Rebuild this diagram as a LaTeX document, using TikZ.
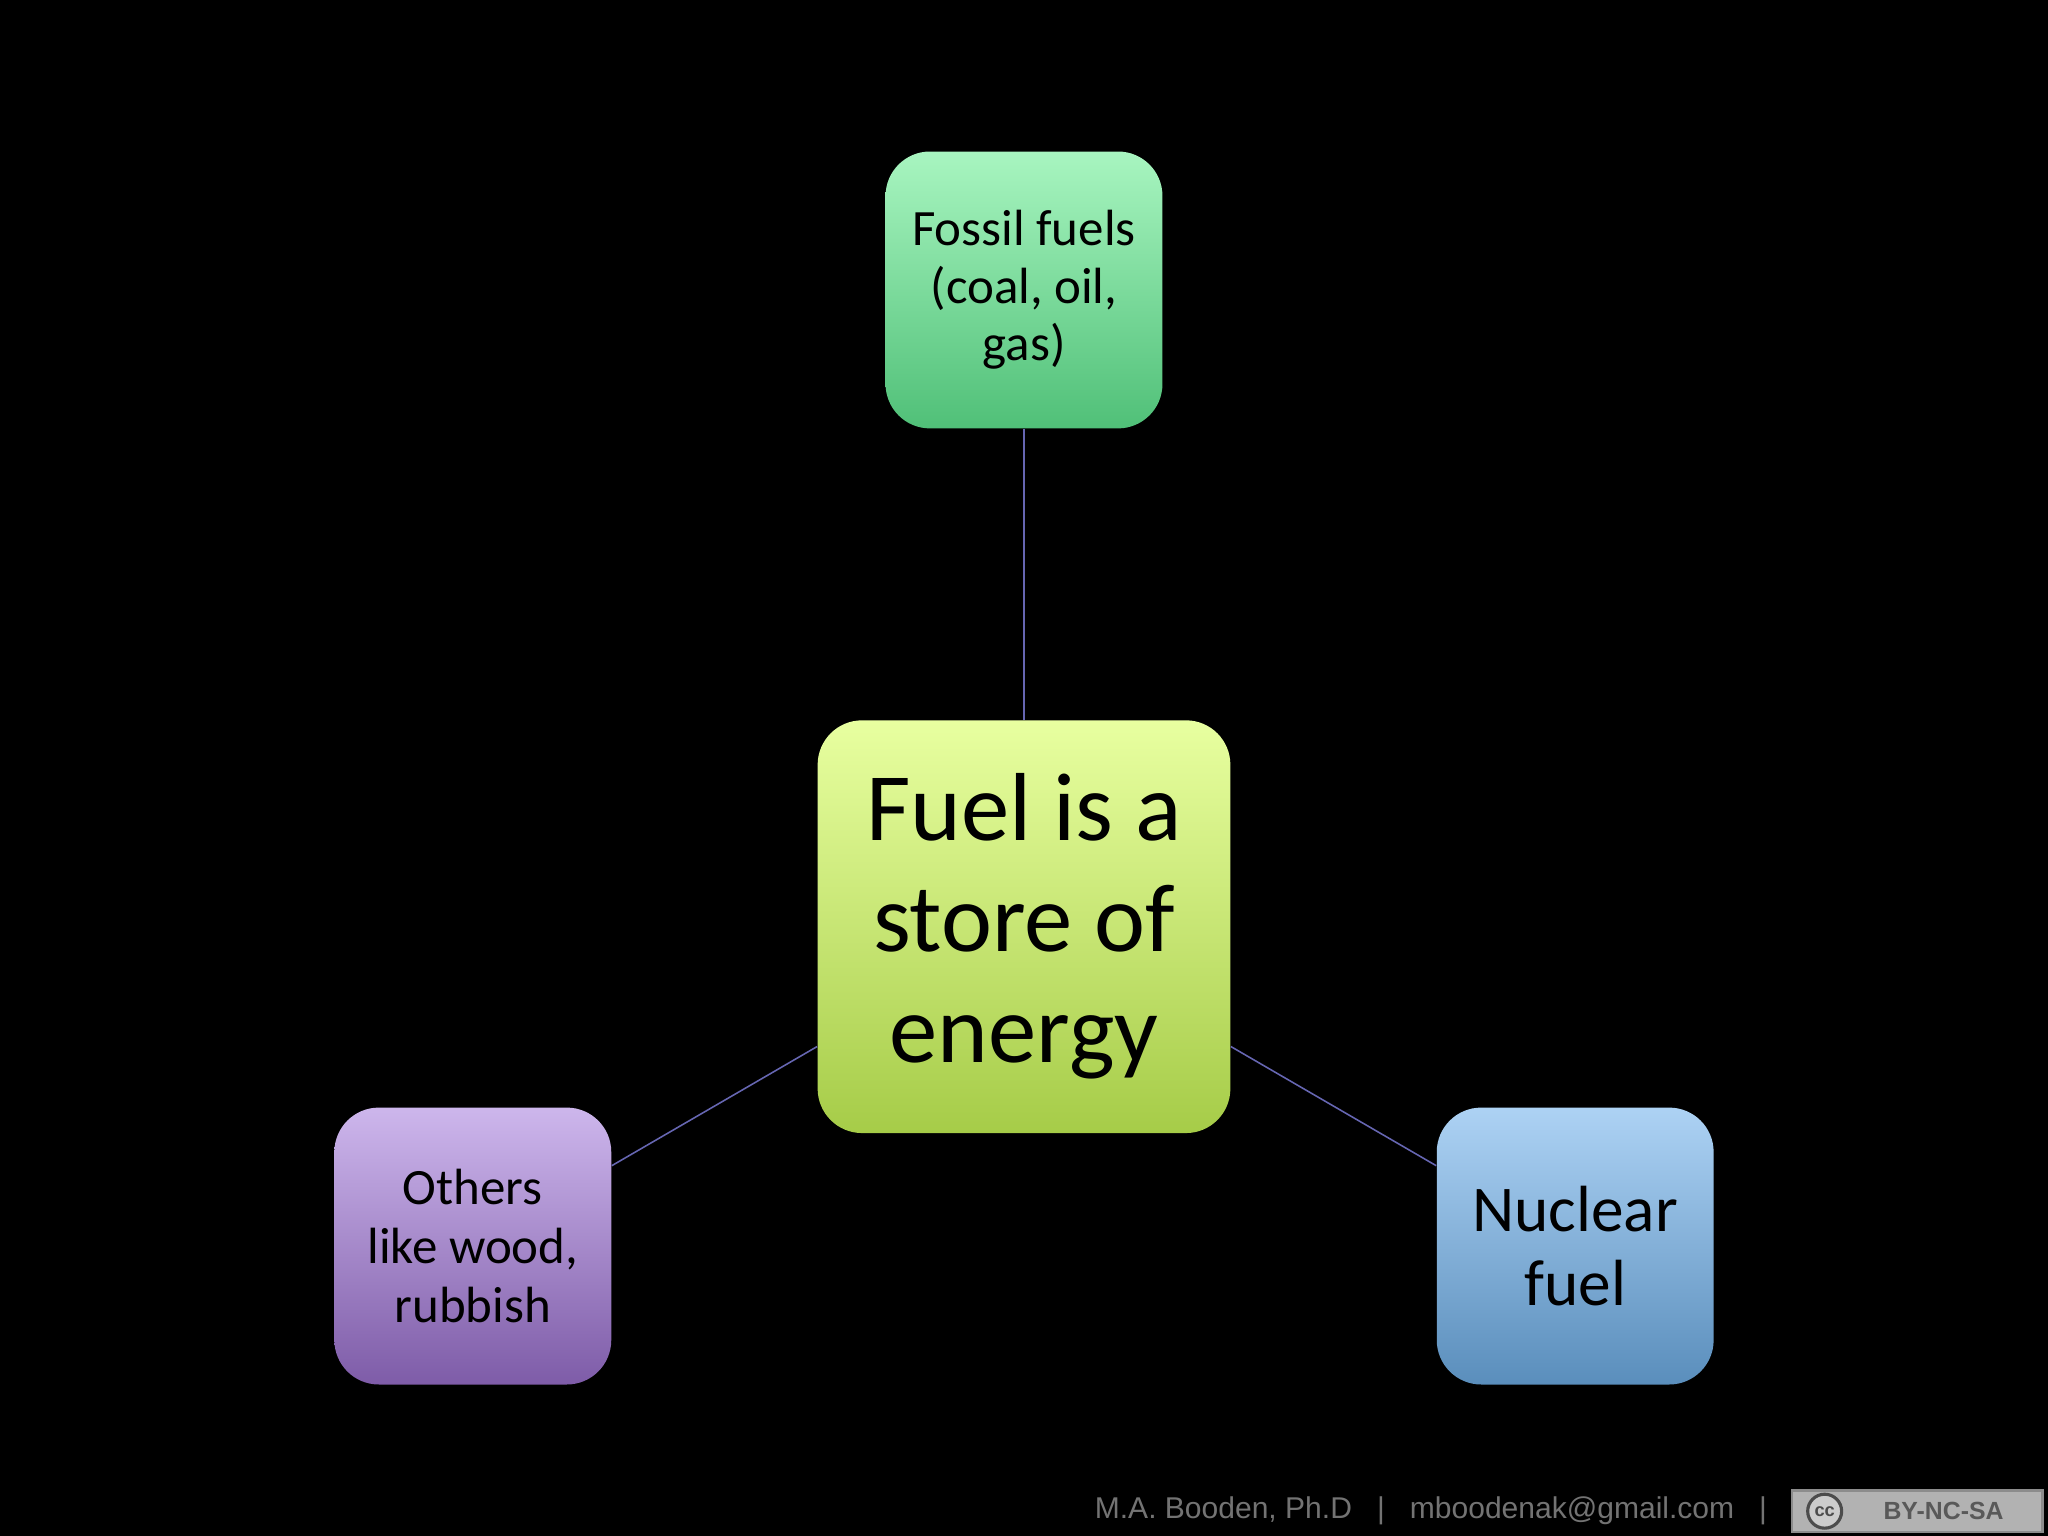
\documentclass[tikz,border=0pt]{standalone}
\usepackage{fontspec}
\setmainfont{Carlito}
\newfontfamily\foot{Liberation Sans}
\begin{document}
\begin{tikzpicture}[x=0.5pt,y=-0.5pt,
 box/.style={rounded corners=17pt,align=center,inner sep=0pt,text=black},
 conn/.style={draw=black!50!blue!60!white,line width=0.6pt}]
\fill[black] (0,0) rectangle (1568,1176);
\useasboundingbox (0,0) rectangle (1568,1176);
\node[box,minimum size=158pt,top color={rgb,255:red,232;green,255;blue,160},bottom color={rgb,255:red,166;green,204;blue,72},font=\fontsize{37}{42.5}\selectfont] (c) at (784,709.5) {Fuel is a\\store of\\energy};
\node[box,minimum size=106pt,top color={rgb,255:red,168;green,245;blue,192},bottom color={rgb,255:red,80;green,192;blue,120},font=\fontsize{19.5}{22}\selectfont] (f) at (784,222) {Fossil fuels\\(coal, oil,\\gas)};
\node[box,minimum size=106pt,top color={rgb,255:red,205;green,182;blue,236},bottom color={rgb,255:red,126;green,92;blue,168},font=\fontsize{19.5}{22.5}\selectfont] (o) at (362,954) {Others\\like wood,\\rubbish};
\node[box,minimum size=106pt,top color={rgb,255:red,173;green,210;blue,244},bottom color={rgb,255:red,90;green,142;blue,188},font=\fontsize{25}{28}\selectfont] (n) at (1206,954) {Nuclear\\fuel};
\draw[conn] (c) -- (f);
\draw[conn] (c) -- (o);
\draw[conn] (c) -- (n);
\node[text=black!55,font=\foot\fontsize{11.5}{13}\selectfont,anchor=east] (ft) at (1360,1157) {M.A.\ Booden, Ph.D \ \ | \ \ mboodenak@gmail.com \ \ |};
\node[draw=black!45,fill=black!30,line width=1pt,minimum width=96pt,minimum height=16pt,inner sep=0pt,text=black!65,font=\foot\bfseries\fontsize{9.5}{11}\selectfont] (cc) at (1468,1157) {\hspace{20pt}BY-NC-SA};
\node[circle,draw=black!70,fill=black!20,line width=1.2pt,minimum size=13pt,inner sep=0pt,font=\foot\bfseries\fontsize{7}{8}\selectfont,text=black!70] (ccl) at (1397,1157) {cc};
\end{tikzpicture}
\end{document}
